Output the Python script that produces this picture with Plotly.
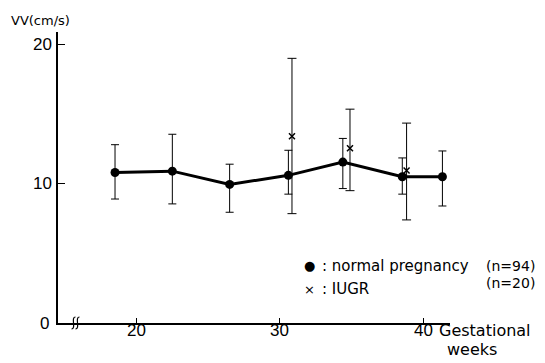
import plotly.graph_objects as go

# ---- data ----
normal_weeks = [18.5, 22.5, 26.5, 30.6, 34.4, 38.55, 41.35]
normal_vv = [10.8, 10.9, 9.95, 10.6, 11.55, 10.5, 10.5]
normal_hi = [12.8, 13.55, 11.4, 12.4, 13.25, 11.85, 12.35]
normal_lo = [8.9, 8.55, 7.95, 9.25, 9.65, 9.25, 8.4]

iugr_weeks = [30.85, 34.9, 38.85]
iugr_vv = [13.4, 12.55, 10.95]
iugr_hi = [19.0, 15.35, 14.35]
iugr_lo = [7.85, 9.5, 7.4]

x_tickvals = [20, 30, 40]
x_ticktext = ["20", "30", "40"]
y_tickvals = [10, 20]
y_ticktext = ["10", "20"]

NARROW = "Liberation Sans Narrow, Arial Narrow, Liberation Sans, sans-serif"
WIDE = "DejaVu Sans, Verdana, sans-serif"

L, R, T, B = 58, 95, 32, 40
PW, PH = 545 - L - R, 363 - T - B
XR = [14.52, 41.88]
YR = [0, 20.89]

fig = go.Figure()

fig.add_trace(go.Scatter(
    x=normal_weeks, y=normal_vv, mode="lines+markers",
    line=dict(color="black", width=3),
    marker=dict(symbol="circle", size=9, color="black"),
    error_y=dict(type="data", symmetric=False,
                 array=[h - v for h, v in zip(normal_hi, normal_vv)],
                 arrayminus=[v - l for l, v in zip(normal_lo, normal_vv)],
                 color="black", thickness=1, width=4),
    showlegend=False,
))

fig.add_trace(go.Scatter(
    x=iugr_weeks, y=iugr_vv, mode="markers",
    marker=dict(symbol="x-thin-open", size=6, color="black",
                line=dict(color="black", width=1.5)),
    error_y=dict(type="data", symmetric=False,
                 array=[h - v for h, v in zip(iugr_hi, iugr_vv)],
                 arrayminus=[v - l for l, v in zip(iugr_lo, iugr_vv)],
                 color="black", thickness=1, width=4.5),
    showlegend=False,
))


def pxx(x):
    return (x - L) / PW


def pxy(y):
    return (363 - B - y) / PH


# axis break squiggles (decoration, in paper coords so they are not clipped)
for cpx in [73.5, 77.5]:
    cy = 323
    path = (f"M {pxx(cpx + 2)},{pxy(cy - 6)} "
            f"C {pxx(cpx - 3)},{pxy(cy - 6)} {pxx(cpx + 3)},{pxy(cy + 6)} "
            f"{pxx(cpx - 2)},{pxy(cy + 6)}")
    fig.add_shape(type="path", path=path, xref="paper", yref="paper",
                  line=dict(color="black", width=1.2))

fig.update_layout(
    width=545, height=363,
    margin=dict(l=L, r=R, t=T, b=B),
    paper_bgcolor="white", plot_bgcolor="white",
    xaxis=dict(range=XR, tickvals=x_tickvals, showticklabels=False,
               ticks="inside", ticklen=5, tickcolor="black",
               showline=True, linecolor="black", linewidth=1.5,
               showgrid=False, zeroline=False),
    yaxis=dict(range=YR, tickvals=y_tickvals, showticklabels=False,
               ticks="inside", ticklen=7, tickcolor="black",
               showline=True, linecolor="black", linewidth=1.5,
               showgrid=False, zeroline=False),
)

tickfont = dict(family=NARROW, size=17, color="black")
for v, t in zip(x_tickvals, x_ticktext):
    fig.add_annotation(x=v, xref="x", y=pxy(330.5), yref="paper",
                       text=t, showarrow=False, xanchor="center", yanchor="middle",
                       font=tickfont)
for v, t in zip(y_tickvals, y_ticktext):
    fig.add_annotation(x=pxx(54), xref="paper", y=v, yref="y",
                       text=t, showarrow=False, xanchor="right", yanchor="middle",
                       font=tickfont)


def px_ann(x, y, text, size, family=WIDE, xanchor="center"):
    fig.add_annotation(x=pxx(x), y=pxy(y), xref="paper", yref="paper",
                       text=text, xanchor=xanchor, yanchor="middle",
                       showarrow=False, font=dict(family=family, size=size, color="black"))


px_ann(9, 21, "VV<span style='font-size:13px'>(cm/s)</span>", 13, xanchor="left")
px_ann(44, 323, "0", 17, NARROW)
px_ann(437, 330, "Gestational", 16, xanchor="left")
px_ann(445, 349, "weeks", 16, xanchor="left")
px_ann(309, 265, "●", 13)
px_ann(320, 266, ":&nbsp;normal pregnancy", 15, xanchor="left")
px_ann(309, 289, "×", 13)
px_ann(320, 289, ":&nbsp;IUGR", 15, xanchor="left")
px_ann(537, 266, "(n=94)", 14, xanchor="right")
px_ann(537, 283, "(n=20)", 14, xanchor="right")

fig.write_html("out.html")
